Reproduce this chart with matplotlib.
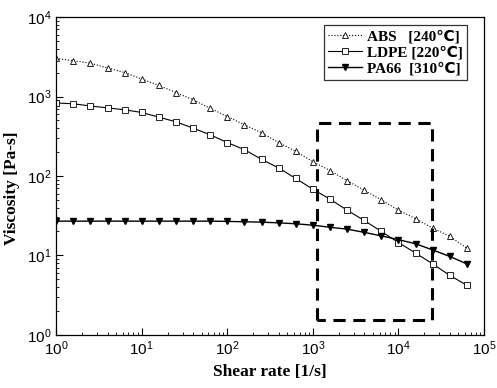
import matplotlib.pyplot as plt
import numpy as np

plt.rcParams['mathtext.fontset'] = 'custom'
plt.rcParams['mathtext.rm'] = 'Liberation Sans'
plt.rcParams['font.family'] = ['Liberation Sans', 'DejaVu Sans']

# shear rate points (5 per decade)
shear = [1, 1.585, 2.512, 3.981, 6.31, 10, 15.85, 25.12, 39.81, 63.1,
         100, 158.5, 251.2, 398.1, 631, 1000, 1585, 2512, 3981, 6310,
         10000, 15850, 25120, 39810, 63100]

abs_240 = [3020, 2820, 2630, 2290, 2000, 1660, 1380, 1120, 910, 710,
           560, 440, 350, 263, 204, 151, 117, 87, 66, 50,
           37, 29, 22, 17.4, 12.3]
ldpe_220 = [830, 810, 760, 720, 680, 630, 550, 480, 400, 330,
            263, 214, 162, 126, 93, 68, 51, 37, 27.5, 20,
            14.5, 10.7, 7.8, 5.6, 4.2]
pa66_310 = [27, 27, 27, 27, 27, 27, 27, 27, 27, 27,
            26.8, 26.5, 26.2, 25.7, 25, 24, 22.6, 21.4, 19.5, 17.6,
            15.8, 14, 11.7, 9.7, 7.8]

labels = ['ABS   [240℃]', 'LDPE [220℃]', 'PA66  [310℃]']

# highlighted region
box_x = [1110, 24500]
box_y = [1.55, 470]

fig = plt.figure(figsize=(4.97, 3.88), dpi=100)
ax = fig.add_axes([0.113, 0.137, 0.861, 0.819])

ax.plot(shear, abs_240, ls=':', lw=0.8, color='k', marker='^', mfc='white',
        mec='k', ms=4.8, mew=0.6, label=labels[0])
ax.plot(shear, ldpe_220, ls='-', lw=0.8, color='k', marker='s', mfc='white',
        mec='k', ms=4, mew=0.6, label=labels[1])
ax.plot(shear, pa66_310, ls='-', lw=1.0, color='k', marker='v', mfc='k',
        mec='k', ms=4.8, label=labels[2])

ax.plot([box_x[0], box_x[0], box_x[1], box_x[1], box_x[0]],
        [box_y[0], box_y[1], box_y[1], box_y[0], box_y[0]],
        ls=(0, (4, 2.5)), lw=2.2, color='k')

ax.set_xscale('log')
ax.set_yscale('log')
ax.set_xlim(1, 1e5)
ax.set_ylim(1, 1e4)

serif = ['Liberation Serif', 'DejaVu Sans']
ax.set_xlabel('Shear rate [1/s]', family=serif, fontweight='bold', fontsize=12.5)
ax.set_ylabel('Viscosity [Pa-s]', family=serif, fontweight='bold', fontsize=12.5)
ax.yaxis.set_label_coords(-0.085, 0.46)

ax.tick_params(which='both', direction='in', top=False, right=False,
               labelsize=11)
ax.tick_params(which='major', length=5)
ax.tick_params(which='minor', length=2.5)
for s in ax.spines.values():
    s.set_linewidth(0.9)

leg = ax.legend(loc='upper right', bbox_to_anchor=(0.96, 0.975),
                borderaxespad=0,
                prop={'family': serif, 'weight': 'bold', 'size': 11},
                frameon=True, fancybox=False, edgecolor='k',
                handlelength=2.2, borderpad=0.3, labelspacing=0.15,
                handletextpad=0.3)
leg.get_frame().set_linewidth(0.9)

fig.savefig('out.png', dpi=100)
